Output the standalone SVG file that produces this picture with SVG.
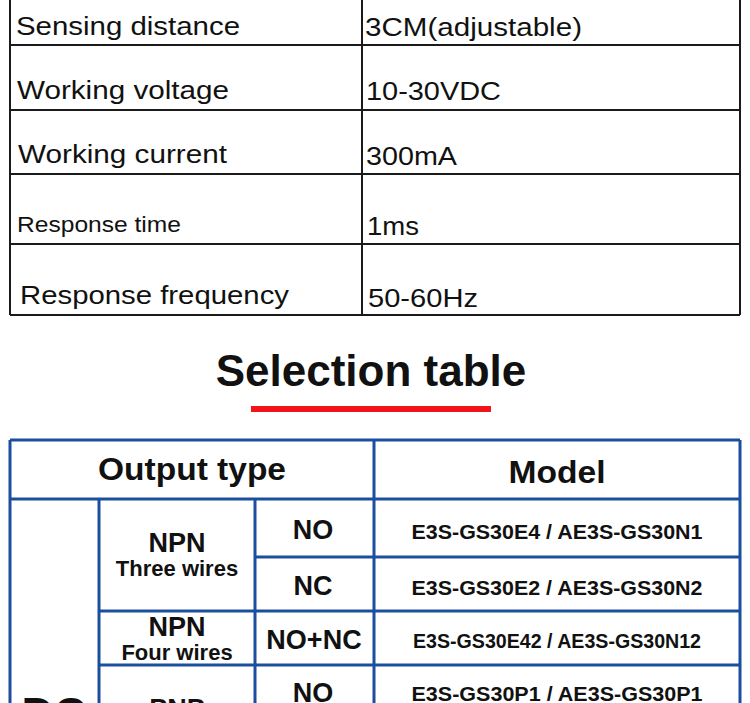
<svg xmlns="http://www.w3.org/2000/svg" width="750" height="703" viewBox="0 0 750 703">
<style>
.spec{font-family:"Liberation Sans",Arial,sans-serif;font-size:25px;fill:#111}
.b{font-family:"Liberation Sans",Arial,sans-serif;font-weight:bold;fill:#111;text-anchor:middle}
.kl{stroke:#1a1a1a;stroke-width:2;fill:none}
.bl{stroke:#1b4e9e;stroke-width:3;fill:none}
</style>
<rect width="750" height="703" fill="#fff"/>
<g id="spec-table">
<path class="kl" d="M10,0V315M362,0V315M740,0V315M10,45H740M10,110H740M10,174H740M10,244H740M10,315H740"/>
<text class="spec" x="16" y="35" textLength="224" lengthAdjust="spacingAndGlyphs">Sensing distance</text>
<text class="spec" x="365" y="36" textLength="217" lengthAdjust="spacingAndGlyphs">3CM(adjustable)</text>
<text class="spec" x="17" y="99" textLength="212" lengthAdjust="spacingAndGlyphs">Working voltage</text>
<text class="spec" x="366" y="100" textLength="135" lengthAdjust="spacingAndGlyphs">10-30VDC</text>
<text class="spec" x="18" y="163" textLength="209" lengthAdjust="spacingAndGlyphs">Working current</text>
<text class="spec" x="366" y="165" textLength="91" lengthAdjust="spacingAndGlyphs">300mA</text>
<text class="spec" x="17" y="232" style="font-size:22px" textLength="164" lengthAdjust="spacingAndGlyphs">Response time</text>
<text class="spec" x="367" y="235" textLength="52" lengthAdjust="spacingAndGlyphs">1ms</text>
<text class="spec" x="20" y="304" textLength="269" lengthAdjust="spacingAndGlyphs">Response frequency</text>
<text class="spec" x="368" y="307" textLength="110" lengthAdjust="spacingAndGlyphs">50-60Hz</text>
</g>
<g id="title">
<text class="b" x="371" y="386" style="font-size:44px">Selection table</text>
<rect x="251" y="406" width="240" height="6" fill="#f2141b"/>
</g>
<g id="connectors">
<path class="bl" d="M10,440H740M10,499H740M255,557H740M99,611H740M99,665H740M10,440V703M99,499V703M255,499V703M374,440V703M740,440V703"/>
</g>
<g id="header-output"><text class="b" x="192" y="480" style="font-size:32px" textLength="188" lengthAdjust="spacingAndGlyphs">Output type</text></g>
<g id="header-model"><text class="b" x="557" y="483" style="font-size:32px" textLength="97" lengthAdjust="spacingAndGlyphs">Model</text></g>
<g id="dc"><text class="b" x="54" y="729" style="font-size:45px">DC</text></g>
<g id="npn3"><text class="b" x="177" y="552" style="font-size:27px">NPN</text><text class="b" x="177" y="576" style="font-size:22px">Three wires</text></g>
<g id="npn4"><text class="b" x="177" y="636" style="font-size:27px">NPN</text><text class="b" x="177" y="660" style="font-size:22px">Four wires</text></g>
<g id="pnp"><text class="b" x="177" y="718" style="font-size:27px">PNP</text></g>
<g id="no1"><text class="b" x="313" y="539" style="font-size:27px">NO</text></g>
<g id="nc1"><text class="b" x="313" y="595" style="font-size:27px">NC</text></g>
<g id="nonc"><text class="b" x="314" y="649" style="font-size:27px">NO+NC</text></g>
<g id="no2"><text class="b" x="313" y="702" style="font-size:27px">NO</text></g>
<g id="m1"><text class="b" x="557" y="539" style="font-size:20px" textLength="291" lengthAdjust="spacingAndGlyphs">E3S-GS30E4 / AE3S-GS30N1</text></g>
<g id="m2"><text class="b" x="557" y="595" style="font-size:20px" textLength="291" lengthAdjust="spacingAndGlyphs">E3S-GS30E2 / AE3S-GS30N2</text></g>
<g id="m3"><text class="b" x="557" y="648" style="font-size:20px" textLength="288" lengthAdjust="spacingAndGlyphs">E3S-GS30E42 / AE3S-GS30N12</text></g>
<g id="m4"><text class="b" x="557" y="701" style="font-size:20px" textLength="291" lengthAdjust="spacingAndGlyphs">E3S-GS30P1 / AE3S-GS30P1</text></g>
</svg>
